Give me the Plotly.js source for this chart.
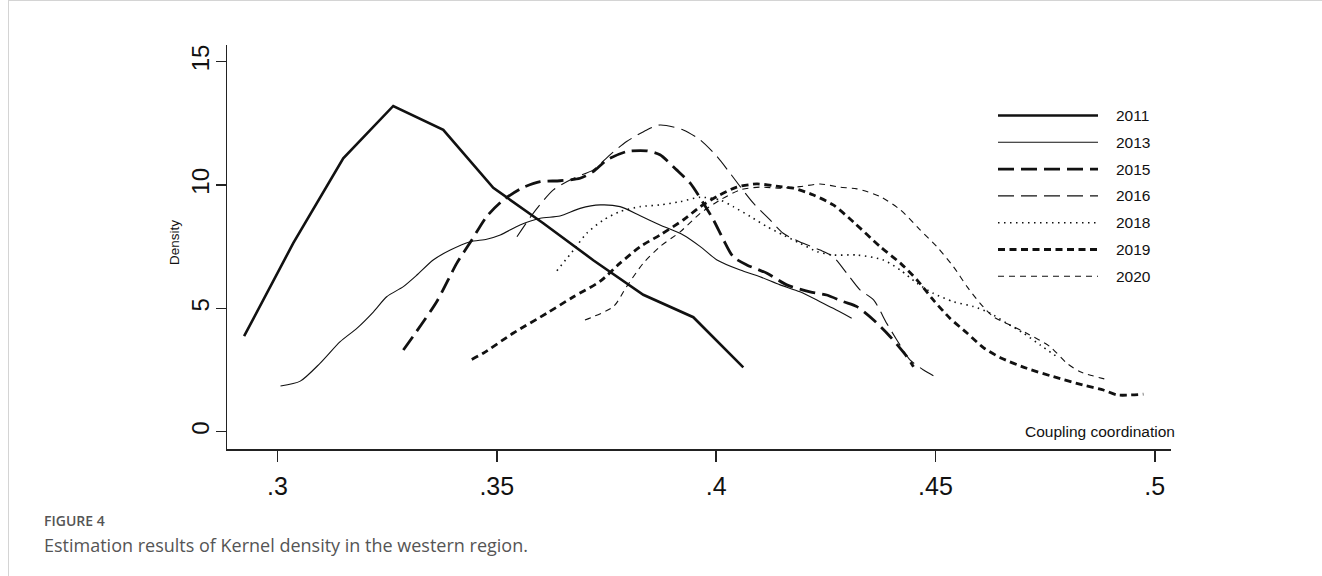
<!DOCTYPE html>
<html>
<head>
<meta charset="utf-8">
<script src="https://cdn.plot.ly/plotly-3.0.1.min.js"></script>
<style>
  html, body { margin: 0; padding: 0; background: #fff; }
  #chart { width: 1322px; height: 576px; }
</style>
</head>
<body>
<div id="chart"></div>
<script>
// ---- data ----
const years = ["2011", "2013", "2015", "2016", "2018", "2019", "2020"];

const x2011 = [0.2924, 0.3036, 0.3150, 0.3264, 0.3378, 0.3492, 0.3606, 0.3720, 0.3834, 0.3948, 0.4062];
const y2011 = [3.87, 7.64, 11.08, 13.20, 12.23, 9.88, 8.45, 6.95, 5.55, 4.64, 2.61];

const x2013 = [0.3007, 0.3052, 0.3097, 0.3143, 0.3181, 0.3219, 0.3249, 0.3287, 0.3318, 0.3355, 0.3394, 0.3439, 0.3477, 0.3508, 0.3553, 0.3599, 0.3644, 0.3690, 0.3736, 0.3781, 0.3827, 0.3872, 0.3925, 0.3964, 0.4002, 0.4055, 0.4100, 0.4146, 0.4191, 0.4237, 0.4267, 0.4309];
const y2013 = [1.85, 2.05, 2.77, 3.65, 4.19, 4.86, 5.47, 5.88, 6.35, 6.96, 7.36, 7.70, 7.80, 7.97, 8.38, 8.65, 8.74, 9.05, 9.19, 9.12, 8.75, 8.38, 7.97, 7.50, 6.96, 6.55, 6.28, 5.95, 5.67, 5.27, 5.00, 4.60];

const x2015 = [0.3287, 0.3363, 0.3409, 0.3443, 0.3477, 0.3515, 0.3557, 0.3599, 0.3644, 0.3690, 0.3720, 0.3751, 0.3796, 0.3842, 0.3872, 0.3910, 0.3941, 0.3971, 0.3994, 0.4017, 0.4039, 0.4070, 0.4116, 0.4161, 0.4214, 0.4252, 0.4290, 0.4321, 0.4359, 0.4397, 0.4435, 0.4450];
const y2015 = [3.31, 5.27, 6.83, 7.77, 8.72, 9.39, 9.87, 10.13, 10.17, 10.27, 10.54, 11.01, 11.35, 11.38, 11.22, 10.61, 10.07, 9.26, 8.58, 7.77, 7.09, 6.76, 6.42, 5.95, 5.67, 5.54, 5.27, 5.07, 4.53, 3.85, 3.04, 2.63];

const x2016 = [0.3546, 0.3583, 0.3629, 0.3675, 0.3720, 0.3758, 0.3796, 0.3842, 0.3872, 0.3925, 0.3964, 0.4002, 0.4032, 0.4055, 0.4085, 0.4123, 0.4153, 0.4190, 0.4237, 0.4267, 0.4298, 0.4328, 0.4359, 0.4389, 0.4412, 0.4442, 0.4473, 0.4499];
const y2016 = [7.90, 8.85, 9.80, 10.27, 10.61, 11.22, 11.76, 12.23, 12.43, 12.23, 11.82, 11.15, 10.47, 9.93, 9.26, 8.58, 8.04, 7.70, 7.36, 7.09, 6.42, 5.75, 5.34, 4.39, 3.72, 2.91, 2.50, 2.23];

const x2018 = [0.3637, 0.3675, 0.3705, 0.3743, 0.3781, 0.3827, 0.3872, 0.3918, 0.3964, 0.4009, 0.4039, 0.4078, 0.4116, 0.4153, 0.4191, 0.4230, 0.4267, 0.4321, 0.4381, 0.4420, 0.4458, 0.4495, 0.4541, 0.4587, 0.4625, 0.4663, 0.4701, 0.4739, 0.4777];
const y2018 = [6.52, 7.36, 8.04, 8.58, 8.92, 9.12, 9.19, 9.32, 9.50, 9.39, 9.12, 8.72, 8.31, 7.97, 7.64, 7.30, 7.16, 7.16, 6.96, 6.55, 6.02, 5.61, 5.27, 5.07, 4.80, 4.39, 3.99, 3.51, 3.04];

const x2019 = [0.3443, 0.3469, 0.3538, 0.3614, 0.3675, 0.3736, 0.3781, 0.3827, 0.3872, 0.3925, 0.3964, 0.4002, 0.4047, 0.4093, 0.4146, 0.4176, 0.4222, 0.4267, 0.4313, 0.4374, 0.4420, 0.4458, 0.4495, 0.4533, 0.4572, 0.4610, 0.4648, 0.4708, 0.4769, 0.4837, 0.4883, 0.4914, 0.4974];
const y2019 = [2.93, 3.18, 4.00, 4.80, 5.47, 6.10, 6.83, 7.50, 7.97, 8.58, 9.12, 9.53, 9.91, 10.04, 9.93, 9.87, 9.59, 9.19, 8.50, 7.50, 6.83, 6.15, 5.34, 4.60, 4.00, 3.40, 3.00, 2.57, 2.23, 1.89, 1.69, 1.49, 1.52];

const x2020 = [0.3701, 0.3766, 0.3796, 0.3834, 0.3872, 0.3918, 0.3964, 0.4009, 0.4055, 0.4100, 0.4146, 0.4191, 0.4237, 0.4282, 0.4321, 0.4374, 0.4420, 0.4465, 0.4503, 0.4541, 0.4572, 0.4602, 0.4632, 0.4678, 0.4708, 0.4761, 0.4800, 0.4830, 0.4894];
const y2020 = [4.53, 5.07, 5.88, 6.83, 7.50, 8.10, 8.85, 9.39, 9.80, 9.91, 9.87, 9.93, 10.04, 9.91, 9.84, 9.53, 8.99, 8.18, 7.50, 6.69, 5.88, 5.20, 4.66, 4.26, 3.99, 3.45, 2.77, 2.43, 2.10];

const xTickVals = [0.3, 0.35, 0.4, 0.45, 0.5];
const xTickText = [".3", ".35", ".4", ".45", ".5"];
const yTickVals = [0, 5, 10, 15];
const yTickText = ["0", "5", "10", "15"];

// ---- styles ----
const styles = {
  "2011": {width: 2.6, dash: "solid", shape: "linear"},
  "2013": {width: 1.1, dash: "solid", shape: "spline"},
  "2015": {width: 2.8, dash: "16px,7px", shape: "spline"},
  "2016": {width: 1.1, dash: "16px,7px", shape: "spline"},
  "2018": {width: 1.6, dash: "1.5px,4.5px", shape: "spline"},
  "2019": {width: 2.8, dash: "7px,4.5px", shape: "spline"},
  "2020": {width: 1.1, dash: "6px,5px", shape: "spline"}
};
const seriesX = {"2011": x2011, "2013": x2013, "2015": x2015, "2016": x2016, "2018": x2018, "2019": x2019, "2020": x2020};
const seriesY = {"2011": y2011, "2013": y2013, "2015": y2015, "2016": y2016, "2018": y2018, "2019": y2019, "2020": y2020};

const traces = years.map(yr => ({
  type: "scatter",
  mode: "lines",
  name: yr,
  x: seriesX[yr],
  y: seriesY[yr],
  line: {color: "#111", width: styles[yr].width, dash: styles[yr].dash, shape: styles[yr].shape, smoothing: 0.7},
  showlegend: false,
  hoverinfo: "skip"
}));

// ---- layout geometry (pixels) ----
const W = 1322, H = 576;
const L = 227, R = 1171, T = 45, B = 449;
const pw = R - L, ph = B - T;
const px = v => (v - L) / pw;
const py = v => (B - v) / ph;

const shapes = [];
const annotations = [];

// manual legend
const legTop = 115.5, legStep = 26.8;
years.forEach((yr, i) => {
  const yy = legTop + i * legStep;
  shapes.push({
    type: "line", xref: "paper", yref: "paper",
    x0: px(998), x1: px(1098), y0: py(yy), y1: py(yy),
    line: {color: "#111", width: styles[yr].width, dash: styles[yr].dash}
  });
  annotations.push({
    xref: "paper", yref: "paper", x: px(1114), y: py(yy),
    xanchor: "left", yanchor: "middle", showarrow: false,
    text: yr, font: {family: "Arial, 'Liberation Sans', sans-serif", size: 15.5, color: "#111"}
  });
});

// page border lines
shapes.push({type: "line", xref: "paper", yref: "paper", x0: px(8.5), x1: px(8.5), y0: py(0), y1: py(H),
  line: {color: "#d4d4d4", width: 1}});
shapes.push({type: "line", xref: "paper", yref: "paper", x0: px(8.5), x1: px(W), y0: py(0.5), y1: py(0.5),
  line: {color: "#d4d4d4", width: 1}});

annotations.push({
  xref: "paper", yref: "paper", x: px(1177), y: py(431),
  xanchor: "right", yanchor: "middle", showarrow: false,
  text: "Coupling coordination", font: {family: "Arial, 'Liberation Sans', sans-serif", size: 15.5, color: "#111"}
});
annotations.push({
  xref: "paper", yref: "paper", x: px(174), y: py(243),
  xanchor: "center", yanchor: "middle", showarrow: false, textangle: -90,
  text: "Density", font: {family: "Arial, 'Liberation Sans', sans-serif", size: 13.5, color: "#111"}
});
annotations.push({
  xref: "paper", yref: "paper", x: px(42), y: py(520),
  xanchor: "left", yanchor: "middle", showarrow: false,
  text: "FIGURE 4", font: {family: "'Open Sans', 'Noto Sans', sans-serif", size: 14, weight: 600, color: "#555"}
});
annotations.push({
  xref: "paper", yref: "paper", x: px(42), y: py(545),
  xanchor: "left", yanchor: "middle", showarrow: false,
  text: "Estimation results of Kernel density in the western region.",
  font: {family: "'Open Sans', 'Noto Sans', sans-serif", size: 18, color: "#555"}
});

const layout = {
  width: W, height: H,
  margin: {l: L, r: W - R, t: T, b: H - B, pad: 0},
  paper_bgcolor: "#fff", plot_bgcolor: "#fff",
  showlegend: false,
  xaxis: {
    range: [0.2885, 0.5037], showgrid: false, zeroline: false,
    showline: true, linecolor: "#222", linewidth: 1.5,
    ticks: "outside", ticklen: 11, tickwidth: 1.5, tickcolor: "#222",
    tickvals: xTickVals, ticktext: xTickText,
    ticklabelstandoff: 3,
    tickfont: {family: "Arial, 'Liberation Sans', sans-serif", size: 25, color: "#111"}
  },
  yaxis: {
    range: [-0.70, 15.67], showgrid: false, zeroline: false,
    showline: true, linecolor: "#222", linewidth: 1.5,
    ticks: "outside", ticklen: 10, tickwidth: 1.5, tickcolor: "#222",
    tickvals: yTickVals, ticktext: yTickText, tickangle: -90,
    ticklabelstandoff: -3,
    tickfont: {family: "Arial, 'Liberation Sans', sans-serif", size: 24, color: "#111"}
  },
  shapes: shapes,
  annotations: annotations
};

Plotly.newPlot("chart", traces, layout, {staticPlot: true, displayModeBar: false});
</script>
</body>
</html>
